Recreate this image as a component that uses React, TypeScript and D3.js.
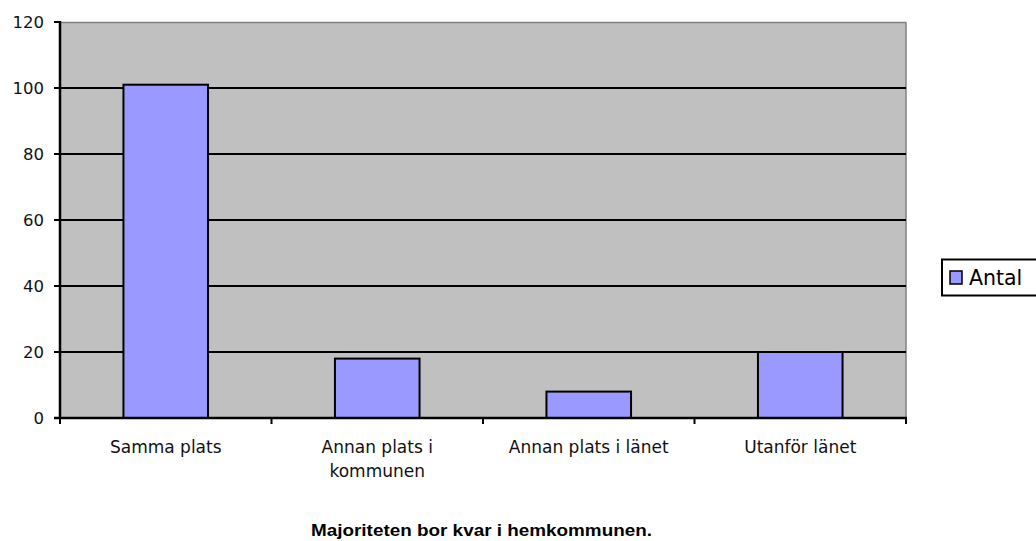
import React from "react";
import * as d3 from "d3";

const categories: string[][] = [
  ["Samma plats"],
  ["Annan plats i", "kommunen"],
  ["Annan plats i länet"],
  ["Utanför länet"],
];
const values: number[] = [101, 18, 8, 20];
const yTicks: number[] = [0, 20, 40, 60, 80, 100, 120];
const seriesName = "Antal";
const title = "Majoriteten bor kvar i hemkommunen.";

const W = 1036;
const H = 541;
const left = 60;
const right = 906;
const top = 22;
const bottom = 418;
const font = "'DejaVu Sans', Verdana, sans-serif";

export default function App() {
  const x = d3
    .scaleBand<number>()
    .domain(values.map((_, i) => i))
    .range([left, right])
    .paddingInner(0.6)
    .paddingOuter(0.3);
  const band = d3.scaleBand<number>().domain(values.map((_, i) => i)).range([left, right]);
  const y = d3.scaleLinear().domain([0, 120]).range([bottom, top]);

  const boundaries = d3.range(values.length + 1).map((i) => left + i * band.step());

  return (
    <svg
      width={W}
      height={H}
      style={{ position: "absolute", left: 0, top: 0, background: "#fff" }}
    >
      <rect x={left} y={top} width={right - left} height={bottom - top} fill="#c0c0c0" />
      <line x1={left} x2={right} y1={top + 0.5} y2={top + 0.5} stroke="#808080" strokeWidth={1.5} />
      <line x1={right} x2={right} y1={top} y2={bottom} stroke="#808080" strokeWidth={1.5} />
      {yTicks
        .filter((t) => t > 0 && t < 120)
        .map((t) => (
          <line key={t} x1={left} x2={right} y1={y(t)} y2={y(t)} stroke="#000" strokeWidth={2} />
        ))}
      {values.map((v, i) => (
        <rect
          key={i}
          x={x(i)}
          y={y(v)}
          width={x.bandwidth()}
          height={bottom - y(v)}
          fill="#9999ff"
          stroke="#000"
          strokeWidth={2}
        />
      ))}
      {/* y axis */}
      <line x1={left} x2={left} y1={top - 1} y2={bottom} stroke="#000" strokeWidth={2.5} />
      {yTicks.map((t) => (
        <g key={t}>
          <line x1={left - 6} x2={left} y1={y(t)} y2={y(t)} stroke="#000" strokeWidth={2} />
          <text
            x={44}
            y={y(t)}
            dy="0.36em"
            textAnchor="end"
            fontFamily={font}
            fontSize={16.5}
            fill="#111"
          >
            {t}
          </text>
        </g>
      ))}
      {/* x axis */}
      <line x1={left - 6} x2={right + 1} y1={bottom} y2={bottom} stroke="#000" strokeWidth={2.5} />
      {boundaries.map((bx, i) => (
        <line key={i} x1={bx} x2={bx} y1={bottom} y2={bottom + 6} stroke="#000" strokeWidth={2} />
      ))}
      {categories.map((lines, i) => (
        <text
          key={i}
          x={(band(i) as number) + band.bandwidth() / 2}
          y={453}
          textAnchor="middle"
          fontFamily={font}
          fontSize={17}
          fill="#111"
        >
          {lines.map((l, j) => (
            <tspan key={j} x={(band(i) as number) + band.bandwidth() / 2} dy={j === 0 ? 0 : 24}>
              {l}
            </tspan>
          ))}
        </text>
      ))}
      {/* legend */}
      <rect x={942} y={259.5} width={100} height={36} fill="#fff" stroke="#000" strokeWidth={2} />
      <rect x={950} y={271} width={12} height={13} fill="#9999ff" stroke="#000" strokeWidth={1.5} />
      <text x={969} y={285} fontFamily={font} fontSize={20.5} fill="#000">
        {seriesName}
      </text>
      {/* title */}
      <text
        x={311}
        y={536}
        fontFamily="'Liberation Sans', Arial, sans-serif"
        fontWeight="bold"
        fontSize={16}
        textLength={341}
        lengthAdjust="spacingAndGlyphs"
        fill="#000"
      >
        {title}
      </text>
    </svg>
  );
}
